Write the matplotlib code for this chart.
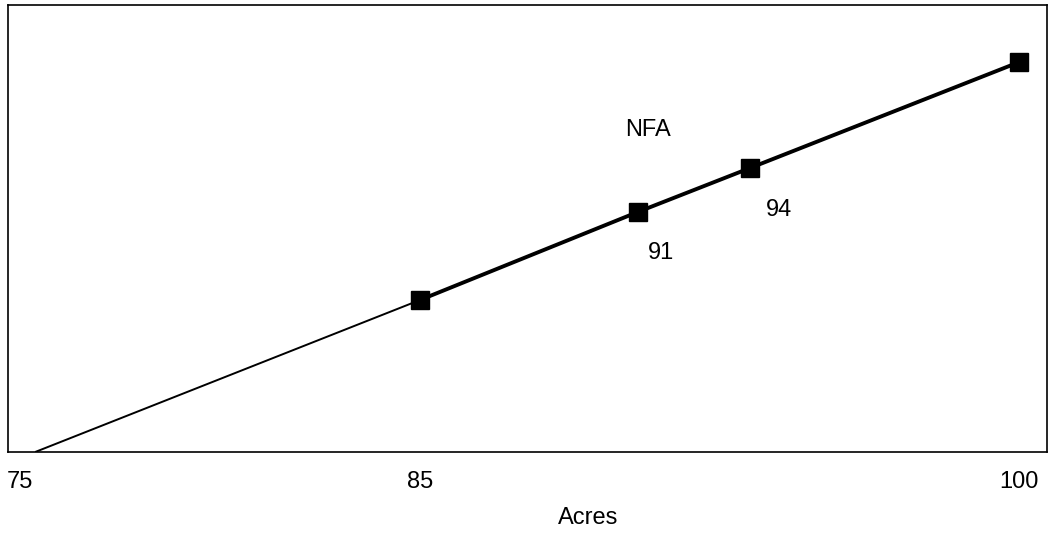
import matplotlib
matplotlib.use("Agg")
import matplotlib.pyplot as plt

plt.rcParams['font.family'] = ['Liberation Sans', 'DejaVu Sans']

# data (y in arbitrary units, no y axis shown)
start_x = [75.37, 85]
start_y = [0, 152]
acres = [85, 90.45, 93.26, 100]
nfa = [152, 240, 284, 390]
tick_vals = [75, 85, 100]
point_labels = ["91", "94"]
label_pos = [(91.03, 199), (93.98, 242)]

fs = 17

fig = plt.figure(figsize=(10.5, 5.36), dpi=100)
ax = fig.add_axes([8/1050, (536-452)/536, (1047-8)/1050, (452-5)/536])

ax.plot(start_x, start_y, color='black', lw=1.4, solid_capstyle='butt')
ax.plot(acres, nfa, color='black', lw=2.8, marker='s', markersize=13,
        markerfacecolor='black', markeredgecolor='black')

for txt, (x, y) in zip(point_labels, label_pos):
    ax.text(x, y, txt, ha='center', va='center', fontsize=fs)
ax.text(90.70, 322, "NFA", ha='center', va='center', fontsize=fs)

ax.set_xlim(74.69, 100.69)
ax.set_ylim(0, 447)
ax.set_xticks(tick_vals)
ax.set_xticklabels([str(v) for v in tick_vals], fontsize=fs)
ax.tick_params(axis='x', length=0, pad=14)
ax.set_yticks([])
for s in ax.spines.values():
    s.set_linewidth(1.2)

ax.text(89.2, -66, "Acres", ha='center', va='center', fontsize=fs, clip_on=False)

fig.savefig("out.png", dpi=100)
